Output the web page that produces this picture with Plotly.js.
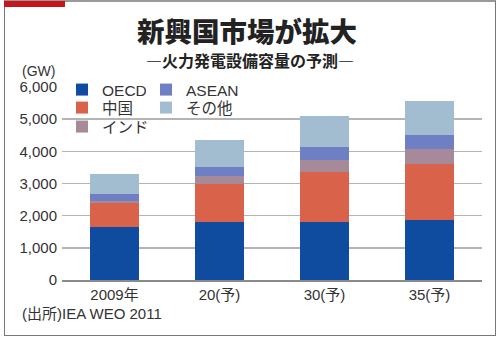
<!DOCTYPE html>
<html>
<head>
<meta charset="utf-8">
<script src="https://cdn.plot.ly/plotly-3.0.1.min.js"></script>
<style>
html,body{margin:0;padding:0;background:#fff;}
#wrap{position:relative;width:500px;height:340px;}
#chart{position:absolute;left:0;top:0;width:500px;height:340px;}
#frame{position:absolute;left:4px;top:0px;width:492px;height:336px;border-left:1.5px solid #777;border-right:1.5px solid #777;border-bottom:1.5px solid #777;border-top:2px solid #9a9a9a;box-sizing:border-box;pointer-events:none;}
#redbar{position:absolute;left:4px;top:1px;width:61px;height:6px;background:#c4161c;pointer-events:none;}
</style>
</head>
<body>
<div id="wrap">
<div id="chart"></div>
<div id="frame"></div>
<div id="redbar"></div>
</div>
<script>
const categories = ['2009年', '20(予)', '30(予)', '35(予)'];
const seriesNames = ['OECD', '中国', 'インド', 'ASEAN', 'その他'];
const oecd  = [1650, 1810, 1810, 1860];
const china = [750, 1170, 1550, 1760];
const india = [60, 250, 370, 450];
const asean = [210, 290, 390, 430];
const other = [640, 830, 980, 1070];
const yTicks = [0, 1000, 2000, 3000, 4000, 5000, 6000];

const colors = ['#0f4ca0', '#d9634a', '#a68a9a', '#6e80c3', '#a2bdd0'];
const values = [oecd, china, india, asean, other];
const legendIds = ['legend', 'legend2', 'legend3', 'legend4', 'legend5'];

const FONT = "'Liberation Sans', Arial, 'Noto Sans CJK JP', sans-serif";
const JP = "'Noto Sans CJK JP', sans-serif";

const traces = values.map((v, i) => ({
  type: 'bar',
  name: seriesNames[i],
  x: categories,
  y: v,
  marker: {color: colors[i], line: {width: 0}},
  legend: legendIds[i],
  hoverinfo: 'skip'
}));

const L = 62, R = 482, T = 87, B = 280;
const px2x = p => (p - L) / (R - L);
const px2y = p => (B - p) / (B - T);

function mkLegend(leftPx, rowPx, bg) {
  return {
    x: px2x(leftPx), y: px2y(rowPx), xanchor: 'left', yanchor: 'middle',
    bgcolor: bg, borderwidth: 0, orientation: 'v',
    font: {family: FONT, size: 15.5, color: '#333'},
    itemwidth: 30
  };
}
const CLEAR = 'rgba(0,0,0,0)';

const layout = {
  width: 500, height: 340,
  margin: {l: L, r: 500 - R, t: T, b: 340 - B, pad: 0},
  paper_bgcolor: '#fff', plot_bgcolor: '#fff',
  barmode: 'stack',
  bargap: 0.53,
  font: {family: FONT, color: '#333', size: 15},
  showlegend: true,
  legend:  mkLegend(62, 90, '#fff'),     // OECD
  legend2: mkLegend(62, 108, CLEAR),     // 中国
  legend3: mkLegend(62, 127, CLEAR),     // インド
  legend4: mkLegend(146, 90, '#fff'),    // ASEAN
  legend5: mkLegend(146, 108, CLEAR),    // その他
  xaxis: {
    type: 'category',
    showline: true, linecolor: '#8a8a8a', linewidth: 2,
    ticks: '', showgrid: false, zeroline: false,
    tickfont: {family: FONT, size: 15, color: '#333'},
    fixedrange: true
  },
  yaxis: {
    range: [0, 6000],
    tickvals: yTicks,
    tickformat: ',d',
    showgrid: true, gridcolor: '#b4b4b4', gridwidth: 1.5,
    zeroline: false, showline: false, ticks: '',
    ticklabelstandoff: 4,
    tickfont: {family: FONT, size: 15, color: '#333'},
    fixedrange: true
  },
  annotations: [
    {text: '新興国市場が拡大', xref: 'paper', yref: 'paper', x: px2x(247), y: px2y(30),
     xanchor: 'center', yanchor: 'middle', showarrow: false,
     font: {family: JP, size: 27.5, color: '#222', weight: 900}},
    {text: '―火力発電設備容量の予測―', xref: 'paper', yref: 'paper', x: px2x(250), y: px2y(60.5),
     xanchor: 'center', yanchor: 'middle', showarrow: false,
     font: {family: JP, size: 16, color: '#222', weight: 700}},
    {text: '(GW)', xref: 'paper', yref: 'paper', x: px2x(20), y: px2y(71),
     xanchor: 'left', yanchor: 'middle', showarrow: false,
     font: {family: FONT, size: 14, color: '#333'}},
    {text: '(出所)IEA WEO 2011', xref: 'paper', yref: 'paper', x: px2x(20), y: px2y(313),
     xanchor: 'left', yanchor: 'middle', showarrow: false,
     font: {family: FONT, size: 15, color: '#333'}}
  ]
};

Plotly.newPlot('chart', traces, layout, {displayModeBar: false, staticPlot: true});
</script>
</body>
</html>
